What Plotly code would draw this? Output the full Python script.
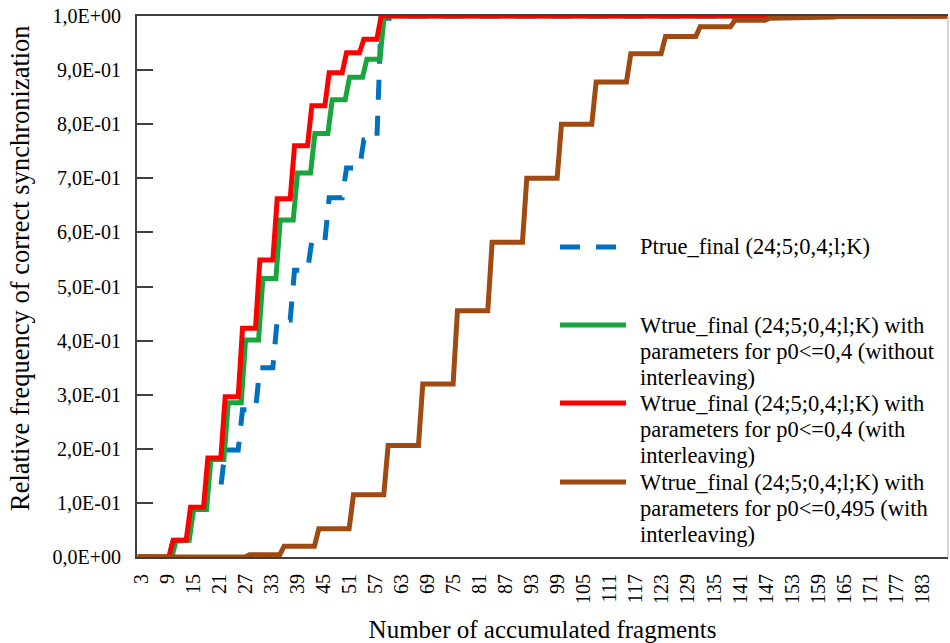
import plotly.graph_objects as go

# ---------------- data ----------------
FRAG_FIRST = 2
FRAG_LAST = 189

x_tick_vals = [3, 9, 15, 21, 27, 33, 39, 45, 51, 57, 63, 69, 75, 81, 87, 93, 99,
               105, 111, 117, 123, 129, 135, 141, 147, 153, 159, 165, 171, 177, 183]
y_tick_vals = [0, 0.1, 0.2, 0.3, 0.4, 0.5, 0.6, 0.7, 0.8, 0.9, 1.0]
y_tick_text = ["0,0E+00", "1,0E-01", "2,0E-01", "3,0E-01", "4,0E-01", "5,0E-01",
               "6,0E-01", "7,0E-01", "8,0E-01", "9,0E-01", "1,0E+00"]

x_title = "Number of accumulated fragments"
y_title = "Relative frequency of correct synchronization"

name_ptrue = "Ptrue_final (24;5;0,4;l;K)"
name_green = ["Wtrue_final (24;5;0,4;l;K) with", "parameters for p0&lt;=0,4 (without", "interleaving)"]
name_red = ["Wtrue_final (24;5;0,4;l;K) with", "parameters for p0&lt;=0,4 (with", "interleaving)"]
name_brown = ["Wtrue_final (24;5;0,4;l;K) with", "parameters for p0&lt;=0,495 (with", "interleaving)"]

# fragment counts at which each series steps to its next level
ptrue_changes = [9.7, 13.7, 17.7, 21.7, 25.7, 29.7, 33.7, 37.7, 41.7, 45.7, 49.7, 53.7, 57.7, 61.7]
ptrue_levels = [0, 0.03, 0.078, 0.13, 0.198, 0.272, 0.35, 0.438, 0.53, 0.584, 0.664, 0.719, 0.771, 0.996, 1.0]

green_changes = [10.4, 14.4, 18.4, 22.4, 26.4, 30.4, 34.4, 38.4, 42.4, 46.4, 50.4, 54.4, 58.4]
green_levels = [0, 0.031, 0.088, 0.18, 0.285, 0.401, 0.515, 0.623, 0.71, 0.783, 0.845, 0.887, 0.92, 1.0]

red_changes = [9.7, 13.7, 17.7, 21.7, 25.7, 29.7, 33.7, 37.7, 41.7, 45.7, 49.7, 53.7, 57.7]
red_levels = [0, 0.031, 0.092, 0.183, 0.296, 0.423, 0.549, 0.662, 0.760, 0.834, 0.895, 0.932, 0.957, 1.0]

brown_changes = [27.3, 35.3, 43.3, 51.3, 59.3, 67.3, 75.3, 83.3, 91.3, 99.3, 107.3, 115.3,
                 123.3, 131.3, 139.3, 147.3, 155.3, 163.3]
brown_levels = [0, 0.004, 0.02, 0.052, 0.115, 0.206, 0.32, 0.455, 0.582, 0.70, 0.80, 0.878,
                0.93, 0.962, 0.98, 0.992, 0.996, 0.998, 1.0]

# ---------------- styles ----------------
C_BLUE = "#0070C0"
C_GREEN = "#17A63C"
C_RED = "#FF0000"
C_BROWN = "#9E4A12"
FONT = "Liberation Serif, Times New Roman, serif"
LW = 5
BLUE_DASH = "20px,16px"


def step_path(changes, levels, ramp=1.0):
    xs = [FRAG_FIRST]
    ys = [levels[0]]
    for c, prev, new in zip(changes, levels[:-1], levels[1:]):
        xs += [c - ramp / 2, c + ramp / 2]
        ys += [prev, new]
    xs.append(FRAG_LAST)
    ys.append(levels[-1])
    return xs, ys


fig = go.Figure()
series = [
    (ptrue_changes, ptrue_levels, C_BLUE, BLUE_DASH, name_ptrue),
    (green_changes, green_levels, C_GREEN, "solid", " ".join(name_green)),
    (red_changes, red_levels, C_RED, "solid", " ".join(name_red)),
    (brown_changes, brown_levels, C_BROWN, "solid", " ".join(name_brown)),
]
for ch, lv, col, dash, nm in series:
    xs, ys = step_path(ch, lv)
    fig.add_trace(go.Scatter(x=xs, y=ys, mode="lines", name=nm,
                             line=dict(color=col, width=LW, dash=dash),
                             showlegend=False, hoverinfo="skip"))

# ---------------- layout ----------------
W, H = 950, 643
ML, MR, MT, MB = 137, 2, 16, 86
PW, PH = W - ML - MR, H - MT - MB


def px_x(px):
    return (px - ML) / PW


def px_y(py):
    return (H - MB - py) / PH


shapes = []
annotations = []

# manual legend (long line samples as in the original)
legend_entries = [
    ([name_ptrue], C_BLUE, BLUE_DASH, 247),
    (name_green, C_GREEN, "solid", 325),
    (name_red, C_RED, "solid", 403),
    (name_brown, C_BROWN, "solid", 482),
]
LINE_STEP = 26
for lines, col, dash, y0 in legend_entries:
    shapes.append(dict(type="line", xref="paper", yref="paper",
                       x0=px_x(560), x1=px_x(626), y0=px_y(y0), y1=px_y(y0),
                       line=dict(color=col, width=LW, dash=dash)))
    for i, t in enumerate(lines):
        annotations.append(dict(xref="paper", yref="paper", x=px_x(638), y=px_y(y0 + i * LINE_STEP),
                                xanchor="left", yanchor="middle", showarrow=False, text=t,
                                font=dict(family=FONT, size=22.5, color="black")))

# y-axis title
annotations.append(dict(xref="paper", yref="paper", x=px_x(20), y=px_y(268),
                        xanchor="center", yanchor="middle", textangle=-90, showarrow=False,
                        text=y_title, font=dict(family=FONT, size=26.5, color="black")))

# right border (light)
shapes.append(dict(type="line", xref="paper", yref="paper", x0=1, x1=1, y0=0, y1=1,
                   line=dict(color="#C8C8C8", width=1.5)))

fig.update_layout(
    width=W, height=H,
    margin=dict(l=ML, r=MR, t=MT, b=MB),
    paper_bgcolor="white", plot_bgcolor="white",
    font=dict(family=FONT, color="black"),
    shapes=shapes, annotations=annotations,
    showlegend=False,
)
fig.update_xaxes(
    range=[1.85, 189.0], tickmode="array", tickvals=x_tick_vals,
    ticktext=[str(v) for v in x_tick_vals], tickangle=-90,
    tickfont=dict(family=FONT, size=20, color="black"),
    showgrid=False, zeroline=False, showline=True, mirror=True,
    linecolor="#404040", linewidth=2, ticks="", ticklabelstandoff=7,
    title=dict(text=x_title,
               font=dict(family=FONT, size=25, color="black"), standoff=17),
)
fig.update_yaxes(
    range=[0, 1], tickmode="array", tickvals=y_tick_vals, ticktext=y_tick_text,
    tickfont=dict(family=FONT, size=20, color="black"),
    showgrid=False, zeroline=False, showline=True, mirror=False,
    linecolor="#404040", linewidth=2, ticks="inside", ticklen=16, tickwidth=1.5,
    tickcolor="#404040", ticklabelstandoff=10,
)

fig.write_html("out.html")
